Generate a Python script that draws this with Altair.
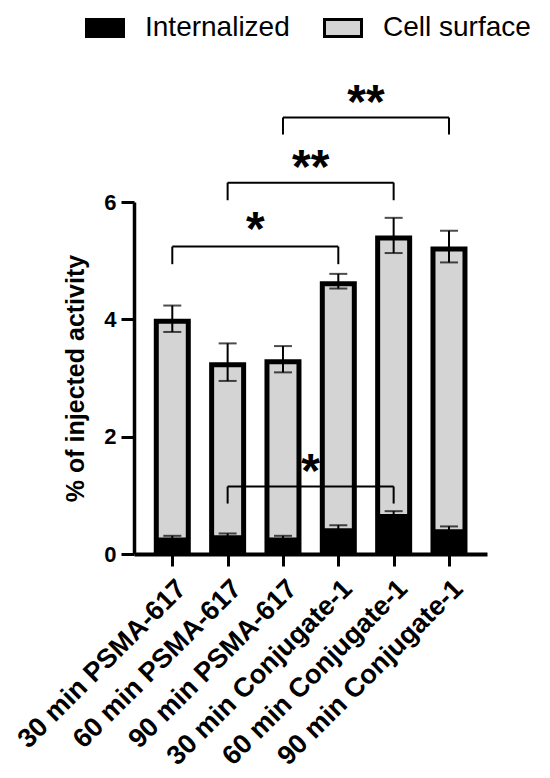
import json
import altair as alt
import pandas as pd

# ---- data ----
categories = ["30 min PSMA-617", "60 min PSMA-617", "90 min PSMA-617",
              "30 min Conjugate-1", "60 min Conjugate-1", "90 min Conjugate-1"]
total_values = [4.01, 3.27, 3.32, 4.65, 5.43, 5.24]
total_errors = [0.225, 0.32, 0.224, 0.125, 0.30, 0.27]
internalized_values = [0.28, 0.32, 0.28, 0.44, 0.68, 0.42]
internalized_errors = [0.03, 0.03, 0.03, 0.05, 0.05, 0.05]
series = ["Internalized", "Cell surface"]
series_colors = ["#000000", "#d4d4d4"]

# significance brackets
bracket_from = [0, 1, 2, 1]
bracket_to = [3, 4, 5, 4]
bracket_y = [5.24, 6.33, 7.44, 1.15]
bracket_leg = [4.94, 6.03, 7.15, 0.86]
bracket_label = ["*", "**", "**", "*"]
bracket_label_y = [5.64, 6.70, 7.81, 1.52]

y_ticks = [0, 2, 4, 6]

# ---- tables ----
idx = list(range(len(categories)))
surface_df = pd.DataFrame({
    "idx": idx, "category": categories, "series": "Cell surface",
    "y0": [0.0] * len(idx), "y1": total_values,
})
intern_df = pd.DataFrame({
    "idx": idx, "category": categories, "series": "Internalized",
    "y0": [0.0] * len(idx), "y1": internalized_values,
})
err_df = pd.DataFrame({
    "idx": idx * 2,
    "lo": [v - e for v, e in zip(total_values, total_errors)]
          + [v - e for v, e in zip(internalized_values, internalized_errors)],
    "hi": [v + e for v, e in zip(total_values, total_errors)]
          + [v + e for v, e in zip(internalized_values, internalized_errors)],
})
br_h = pd.DataFrame({"x1": bracket_from, "x2": bracket_to, "y": bracket_y})
br_legs = pd.DataFrame({
    "x": bracket_from + bracket_to,
    "ytop": bracket_y + bracket_y,
    "ybot": bracket_leg + bracket_leg,
})
br_txt = pd.DataFrame({
    "x": [(a + b) / 2 for a, b in zip(bracket_from, bracket_to)],
    "y": bracket_label_y, "label": bracket_label,
})

FONT = "Liberation Sans"
label_expr = json.dumps(categories) + "[round(datum.value)]"

xscale = alt.Scale(domain=[-0.692, 5.687], nice=False, zero=False, padding=0)
yscale = alt.Scale(domain=[0, 6], nice=False, padding=0)

fill_enc = alt.Fill("series:N", scale=alt.Scale(domain=series, range=series_colors),
                    legend=alt.Legend(title=None))

x_axis = alt.Axis(values=idx, labelExpr=label_expr, title=None, labelAngle=-45,
                  labelAlign="right", labelBaseline="top", labelPadding=9,
                  labelFontSize=27, labelFontWeight="bold", labelFont=FONT,
                  labelLimit=0, labelOverlap=False, labelBound=False,
                  labelColor="black", domainColor="black", domainWidth=4,
                  tickColor="black", tickWidth=3, tickSize=12, grid=False)
y_axis = alt.Axis(values=y_ticks, format="d", title="% of injected activity", titleFont=FONT,
                  titleFontSize=25, titleFontWeight="bold", titleColor="black",
                  titlePadding=15, labelFont=FONT, labelFontSize=22, labelFontWeight="bold",
                  labelColor="black", labelPadding=5, domainColor="black", domainWidth=3.5,
                  tickColor="black", tickWidth=3, tickSize=13, grid=False)

# black outline: full bar, then the grey fill inset by the border width
outline = alt.Chart(surface_df).mark_bar(size=37, color="black").encode(
    x=alt.X("idx:Q", scale=xscale, axis=x_axis),
    y=alt.Y("y1:Q", scale=yscale, axis=y_axis),
    y2="y0:Q",
)
surface = alt.Chart(surface_df).mark_bar(size=27, yOffset=5, strokeWidth=0).encode(
    x=alt.X("idx:Q", scale=xscale),
    y=alt.Y("y1:Q", scale=yscale),
    y2="y0:Q",
    fill=fill_enc,
)
internal = alt.Chart(intern_df).mark_bar(size=32, strokeWidth=0).encode(
    x=alt.X("idx:Q", scale=xscale),
    y=alt.Y("y1:Q", scale=yscale),
    y2="y0:Q",
    fill=fill_enc,
)
err_line = alt.Chart(err_df).mark_rule(color="black", strokeWidth=2).encode(
    x=alt.X("idx:Q", scale=xscale), y=alt.Y("lo:Q", scale=yscale), y2="hi:Q")
cap_hi = alt.Chart(err_df).mark_tick(color="black", thickness=2, size=18, orient="horizontal").encode(
    x=alt.X("idx:Q", scale=xscale), y=alt.Y("hi:Q", scale=yscale))
cap_lo = alt.Chart(err_df).mark_tick(color="black", thickness=2, size=18, orient="horizontal").encode(
    x=alt.X("idx:Q", scale=xscale), y=alt.Y("lo:Q", scale=yscale))

br_line = alt.Chart(br_h).mark_rule(color="black", strokeWidth=2, clip=False).encode(
    x=alt.X("x1:Q", scale=xscale), x2="x2:Q", y=alt.Y("y:Q", scale=yscale))
br_leg = alt.Chart(br_legs).mark_rule(color="black", strokeWidth=2, clip=False).encode(
    x=alt.X("x:Q", scale=xscale), y=alt.Y("ytop:Q", scale=yscale), y2="ybot:Q")
br_star = alt.Chart(br_txt).mark_text(font=FONT, fontWeight="bold", fontSize=48,
                                      baseline="alphabetic", dy=22, color="black",
                                      clip=False).encode(
    x=alt.X("x:Q", scale=xscale), y=alt.Y("y:Q", scale=yscale), text="label:N")

chart = alt.layer(outline, surface, internal, err_line, cap_hi, cap_lo,
                  br_line, br_leg, br_star).properties(
    width=353, height=352,
    autosize=alt.AutoSizeParams(type="none"),
    padding={"left": 126, "top": 194, "right": 50, "bottom": 216},
).configure_view(stroke=None).configure_legend(
    orient="none", legendX=-49, legendY=-194, direction="horizontal",
    symbolType="M-1,-0.46H1V0.46H-1Z", symbolSize=1369, symbolStrokeColor="black",
    symbolStrokeWidth=3, labelFont=FONT, labelFontSize=28, labelColor="black",
    labelOffset=20, columnPadding=28, padding=0, gridAlign="none", labelLimit=0,
)

chart.save("out.html", embed_options={"renderer": "svg", "actions": False})
